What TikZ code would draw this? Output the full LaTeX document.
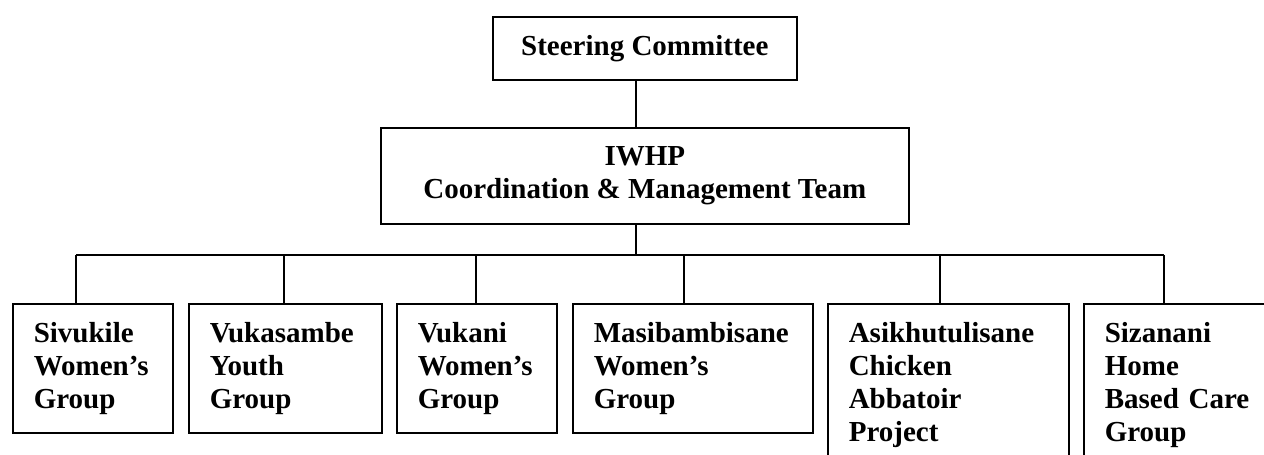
\documentclass[tikz,border=0pt]{standalone}
\usepackage{fontspec}
\setmainfont{Liberation Serif}
\begin{document}
\begin{tikzpicture}[x=1pt,y=-1pt,
  every node/.style={font=\bfseries\fontsize{29}{33}\selectfont},
  topbox/.style={draw,line width=1.6pt,rectangle,align=center,inner sep=0pt,anchor=north west},
  grpbox/.style={draw,line width=1.6pt,rectangle,align=left,inner xsep=21pt,inner ysep=0pt,anchor=north west},
  conn/.style={line width=1.6pt}]
\useasboundingbox (0,0) rectangle (1264,455);
\node[topbox,minimum width=304pt,minimum height=63pt] (steer) at (492,16) {Steering Committee};
\node[topbox,minimum width=528pt,minimum height=96pt] (iwhp) at (380,127) {IWHP\\Coordination \& Management Team};
\node[grpbox,text width=118pt,minimum height=129pt] (b1) at (12,303) {Sivukile\\Women’s\\Group};
\node[grpbox,text width=151pt,minimum height=129pt] (b2) at (188,303) {Vukasambe\\Youth\\Group};
\node[grpbox,text width=118pt,minimum height=129pt] (b3) at (396,303) {Vukani\\Women’s\\Group};
\node[grpbox,text width=198pt,minimum height=129pt] (b4) at (572,303) {Masibambisane\\Women’s\\Group};
\node[grpbox,text width=199pt,minimum height=162pt] (b5) at (827,303) {Asikhutulisane\\Chicken\\Abbatoir\\Project};
\node[grpbox,text width=190pt,minimum height=162pt] (b6) at (1083,303) {Sizanani\\Home\\Based Care\\Group};
\coordinate (trunk) at (636,255);
\coordinate (d1) at (76,255);
\coordinate (d2) at (284,255);
\coordinate (d3) at (476,255);
\coordinate (d4) at (684,255);
\coordinate (d5) at (940,255);
\coordinate (d6) at (1164,255);
\draw[conn] (trunk |- steer.south) -- (trunk |- iwhp.north);
\draw[conn] (trunk |- iwhp.south) -- (trunk);
\draw[conn] (d1) -- (d6);
\draw[conn] (d1) -- (d1 |- b1.north);
\draw[conn] (d2) -- (d2 |- b2.north);
\draw[conn] (d3) -- (d3 |- b3.north);
\draw[conn] (d4) -- (d4 |- b4.north);
\draw[conn] (d5) -- (d5 |- b5.north);
\draw[conn] (d6) -- (d6 |- b6.north);
\end{tikzpicture}
\end{document}
